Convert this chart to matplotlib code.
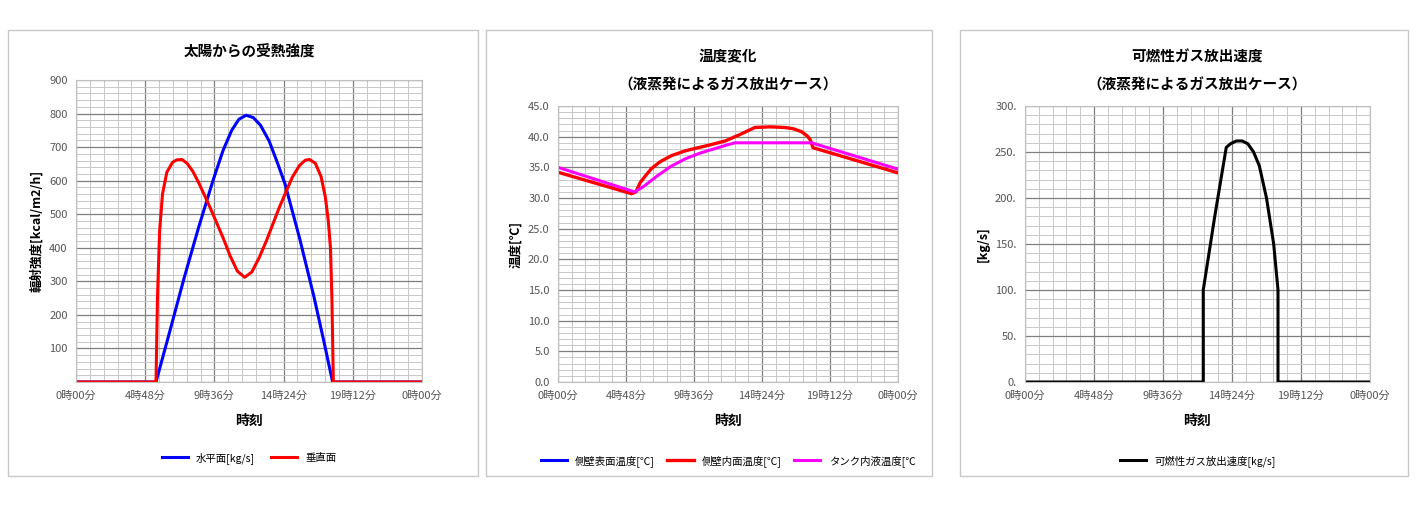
import numpy as np
import matplotlib
matplotlib.use("Agg")
from matplotlib import pyplot as plt
from matplotlib.patches import Rectangle

plt.rcParams['font.family'] = ['Noto Sans CJK JP', 'DejaVu Sans']

# hours of day
sun_t = [0, 5.5, 5.55, 6.5, 7.5, 8.5, 9.5, 10.2, 10.8, 11.3, 11.8, 12.3, 12.8, 13.4, 14.0, 14.5, 15.5, 16.5, 17.2, 17.8, 17.85, 24]
sun_h = [0, 0, 0, 150, 310, 460, 600, 690, 750, 783, 795, 788, 765, 718, 650, 590, 430, 255, 120, 0, 0, 0]
vert_t = [0, 5.5, 5.55, 5.65, 5.8, 6.0, 6.3, 6.7, 7.0, 7.35, 7.7, 8.1, 8.5, 9.3, 10.2, 10.7, 11.2, 11.7, 12.2, 12.7, 13.2, 14.1, 15.0, 15.5, 15.9, 16.2, 16.6, 17.0, 17.3, 17.5, 17.65, 17.75, 17.85, 24]
vert_v = [0, 0, 0, 250, 450, 560, 625, 655, 662, 663, 652, 628, 595, 520, 430, 375, 330, 312, 328, 370, 420, 520, 610, 645, 661, 663, 652, 612, 550, 480, 400, 250, 0, 0]

temp_t = [0, 5.2, 5.5, 5.8, 6.2, 6.6, 7.2, 8.0, 9.0, 9.9, 10.8, 11.8, 12.8, 13.9, 15.0, 16.0, 16.6, 17.2, 17.6, 17.8, 18.0, 24]
wall_in = [34.2, 30.7, 31.0, 32.5, 33.7, 34.8, 35.9, 36.9, 37.7, 38.2, 38.7, 39.3, 40.3, 41.5, 41.6, 41.5, 41.3, 40.8, 40.1, 39.5, 38.2, 34.1]
liq_t = [0, 5.4, 6.0, 7.0, 8.0, 9.0, 10.0, 11.0, 12.0, 12.5, 17.9, 24]
liq_v = [35.0, 31.0, 31.8, 33.6, 35.2, 36.4, 37.3, 38.0, 38.7, 39.0, 39.0, 34.7]

gas_t = [0, 12.4, 12.4, 13.2, 14.0, 14.3, 14.7, 15.1, 15.5, 15.9, 16.3, 16.8, 17.3, 17.6, 17.6, 24]
gas_v = [0, 0, 100, 180, 255, 259, 262, 262, 259, 250, 235, 200, 150, 100, 0, 0]

xticks = [0, 4.8, 9.6, 14.4, 19.2, 24]
xlabels = ['0時00分', '4時48分', '9時36分', '14時24分', '19時12分', '0時00分']

W, H = 1420, 509
fig = plt.figure(figsize=(W / 100, H / 100), dpi=100)

for x0, x1 in [(8, 478), (486, 932), (960, 1408)]:
    fig.patches.append(Rectangle((x0 / W, 1 - 476 / H), (x1 - x0) / W, 446 / H,
                                 transform=fig.transFigure, fill=False, ec='#c8c8c8', lw=1))


def make_ax(l, r, top, bot, ymax, ymajor, yminor, title, ylabel, ylabels, tpad=12):
    ax = fig.add_axes([l / W, 1 - bot / H, (r - l) / W, (bot - top) / H])
    ax.set_xlim(0, 24)
    ax.set_ylim(0, ymax)
    ax.set_xticks(xticks)
    ax.set_xticklabels(xlabels, fontsize=8, color='#555555')
    ax.set_xticks(np.arange(0, 24.01, 0.96), minor=True)
    ax.set_yticks(np.arange(0, ymax + 0.01, ymajor))
    ax.set_yticklabels(ylabels, fontsize=8, color='#555555')
    ax.set_yticks(np.arange(0, ymax + 0.01, yminor), minor=True)
    ax.grid(which='major', color='#7f7f7f', lw=0.9)
    ax.grid(which='minor', color='#c8c8c8', lw=0.7)
    ax.tick_params(which='both', length=0, pad=6)
    for s in ax.spines.values():
        s.set_color('#bfbfbf')
    ax.set_axisbelow(True)
    ax.set_title(title, fontsize=10.5, fontweight='bold', pad=tpad, linespacing=1.9)
    ax.set_xlabel('時刻', fontsize=10, fontweight='bold', labelpad=10)
    ax.set_ylabel(ylabel, fontsize=9, fontweight='bold')
    return ax


ax1 = make_ax(76, 422, 80, 382, 900, 100, 20, '太陽からの受熱強度', '輻射強度[kcal/m2/h]',
              [''] + [str(v) for v in range(100, 901, 100)], tpad=17)
ax1.plot(sun_t, sun_h, color='#0000ff', lw=2.2, label='水平面[kg/s]')
ax1.plot(vert_t, vert_v, color='#ff0000', lw=2.2, label='垂直面')
ax1.legend(loc='upper center', bbox_to_anchor=(0.5, -0.2), ncol=2, frameon=False, fontsize=7.5,
           handlelength=2.5, columnspacing=1.5)

ax2 = make_ax(558, 898, 106, 382, 45, 5, 1, '温度変化\n（液蒸発によるガス放出ケース）', '温度[℃]',
              ['%.1f' % v for v in np.arange(0, 45.1, 5)])
ax2.plot([], [], color='#0000ff', lw=2.2, label='側壁表面温度[℃]')
ax2.plot(temp_t, wall_in, color='#ff0000', lw=2.4, label='側壁内面温度[℃]')
ax2.plot(liq_t, liq_v, color='#ff00ff', lw=2.2, label='タンク内液温度[℃')
ax2.legend(loc='upper center', bbox_to_anchor=(0.5, -0.23), ncol=3, frameon=False, fontsize=7.5,
           handlelength=2.5, columnspacing=1.2)

ax3 = make_ax(1025, 1370, 106, 382, 300, 50, 10, '可燃性ガス放出速度\n（液蒸発によるガス放出ケース）', '[kg/s]',
              ['%d.' % v for v in range(0, 301, 50)])
ax3.plot(gas_t, gas_v, color='black', lw=2.2, label='可燃性ガス放出速度[kg/s]')
ax3.legend(loc='upper center', bbox_to_anchor=(0.5, -0.23), ncol=1, frameon=False, fontsize=7.5,
           handlelength=2.5)

fig.savefig('out.png', dpi=100)
